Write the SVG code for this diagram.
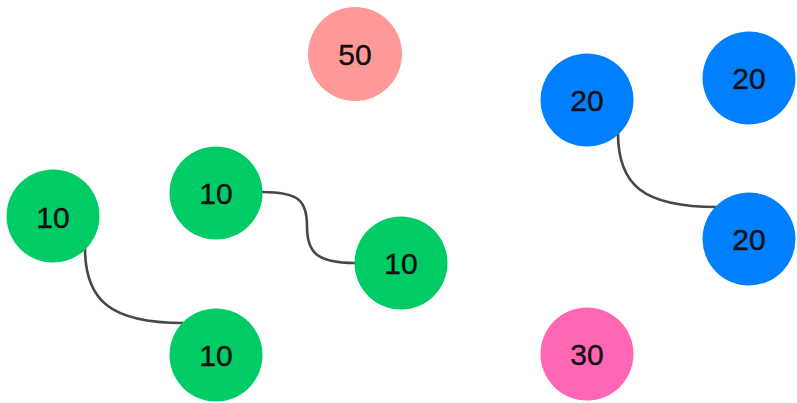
<svg xmlns="http://www.w3.org/2000/svg" width="797" height="403" viewBox="0 0 797 403">
<style>
.l{fill:none;stroke:#474747;stroke-width:2.6}
.t{font-family:"Liberation Sans",Arial,sans-serif;font-size:30px;fill:#111;stroke:#111;stroke-width:0.4;text-anchor:middle}
.g{fill:#00CC66}.b{fill:#0080FF}.s{fill:#FF9999}.p{fill:#FF66B3}
</style>
<rect width="797" height="403" fill="#fff"/>
<g id="connectors">
<path class="l" d="M85,248 C85,300 110,323 183,323"/>
<path class="l" d="M262,192 C298,192 307,200 307,226 C307,252 316,263 355,263"/>
<path class="l" d="M618,133 C618,185 643,207 717,207"/>
</g>
<g id="n50"><circle class="s" cx="355" cy="54" r="47"/><text class="t" x="355" y="65">50</text></g>
<g id="n20a"><circle class="b" cx="587" cy="100" r="46.5"/><text class="t" x="587" y="111">20</text></g>
<g id="n20b"><circle class="b" cx="749" cy="78" r="46.5"/><text class="t" x="749" y="89">20</text></g>
<g id="n20c"><circle class="b" cx="749" cy="239" r="46.5"/><text class="t" x="749" y="250">20</text></g>
<g id="n10a"><circle class="g" cx="53" cy="216" r="46.5"/><text class="t" x="53" y="228">10</text></g>
<g id="n10b"><circle class="g" cx="216" cy="193" r="46.5"/><text class="t" x="216" y="204">10</text></g>
<g id="n10c"><circle class="g" cx="401" cy="263" r="46.5"/><text class="t" x="401" y="274">10</text></g>
<g id="n10d"><circle class="g" cx="216" cy="355" r="46.5"/><text class="t" x="216" y="366">10</text></g>
<g id="n30"><circle class="p" cx="587" cy="354" r="46.5"/><text class="t" x="587" y="365">30</text></g>
</svg>
